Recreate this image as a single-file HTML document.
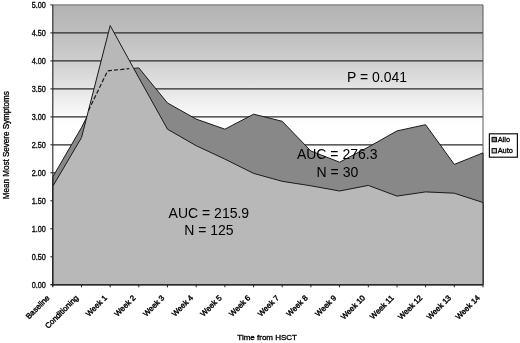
<!DOCTYPE html>
<html><head><meta charset="utf-8"><title>chart</title>
<style>
html,body{margin:0;padding:0;background:#fff;}
body{width:520px;height:343px;overflow:hidden;}
svg{display:block;}
text{font-family:"Liberation Sans",sans-serif;fill:#000;}
text.s{stroke:#000;stroke-width:0.32px;}
text.s2{stroke:#000;stroke-width:0.4px;}
</style></head><body>
<svg width="520" height="343" viewBox="0 0 520 343">
<defs><linearGradient id="bg" x1="0" y1="0" x2="0" y2="1">
<stop offset="0" stop-color="#b3b3b3"/><stop offset="0.1" stop-color="#bebebe"/><stop offset="0.2" stop-color="#cecece"/><stop offset="0.3" stop-color="#e5e5e5"/><stop offset="0.4" stop-color="#fbfbfb"/><stop offset="0.44" stop-color="#ffffff"/><stop offset="1" stop-color="#ffffff"/></linearGradient></defs>
<rect x="0" y="0" width="520" height="343" fill="#fff"/>

<rect x="52.8" y="4.9" width="430.2" height="279.9" fill="url(#bg)"/>
<line x1="52.8" y1="256.8" x2="483.0" y2="256.8" stroke="#2a2a2a" stroke-width="1.15"/>
<line x1="52.8" y1="228.8" x2="483.0" y2="228.8" stroke="#2a2a2a" stroke-width="1.15"/>
<line x1="52.8" y1="200.8" x2="483.0" y2="200.8" stroke="#2a2a2a" stroke-width="1.15"/>
<line x1="52.8" y1="172.8" x2="483.0" y2="172.8" stroke="#2a2a2a" stroke-width="1.15"/>
<line x1="52.8" y1="144.8" x2="483.0" y2="144.8" stroke="#2a2a2a" stroke-width="1.15"/>
<line x1="52.8" y1="116.9" x2="483.0" y2="116.9" stroke="#2a2a2a" stroke-width="1.15"/>
<line x1="52.8" y1="88.9" x2="483.0" y2="88.9" stroke="#2a2a2a" stroke-width="1.15"/>
<line x1="52.8" y1="60.9" x2="483.0" y2="60.9" stroke="#2a2a2a" stroke-width="1.15"/>
<line x1="52.8" y1="32.9" x2="483.0" y2="32.9" stroke="#2a2a2a" stroke-width="1.15"/>
<line x1="52.8" y1="4.9" x2="483.0" y2="4.9" stroke="#6a6a6a" stroke-width="1.00"/>
<line x1="483.0" y1="4.9" x2="483.0" y2="284.8" stroke="#5a5a5a" stroke-width="1"/>
<polygon points="52.8,284.8 52.8,176.9 81.5,127.5 110.2,70.7 138.8,67.9 167.5,103.0 196.2,119.1 224.9,129.2 253.6,114.2 282.2,121.3 310.9,151.0 339.6,162.2 368.3,147.1 397.0,130.9 425.6,124.7 454.3,164.4 483.0,152.9 483.0,284.8" fill="#888888" stroke="#1a1a1a" stroke-width="1"/>
<polygon points="52.8,284.8 52.8,186.3 81.5,137.6 110.2,25.6 138.8,77.7 167.5,129.2 196.2,145.7 224.9,159.1 253.6,173.4 282.2,181.3 310.9,185.8 339.6,191.0 368.3,185.4 397.0,196.1 425.6,191.9 454.3,193.2 483.0,202.5 483.0,284.8" fill="#b8b8b8" stroke="#1a1a1a" stroke-width="1"/>
<polyline points="88.5,110.5 93.5,100.1 107.6,70.9 129.2,68.6" fill="none" stroke="#1a1a1a" stroke-width="1.2" stroke-dasharray="4.2,2.1"/>
<line x1="52.8" y1="4.9" x2="52.8" y2="286.8" stroke="#222" stroke-width="1.1"/>
<line x1="50.8" y1="284.8" x2="483.0" y2="284.8" stroke="#222" stroke-width="1.1"/>
<line x1="52.8" y1="284.8" x2="52.8" y2="287.3" stroke="#222" stroke-width="1"/>
<line x1="81.5" y1="284.8" x2="81.5" y2="287.3" stroke="#222" stroke-width="1"/>
<line x1="110.2" y1="284.8" x2="110.2" y2="287.3" stroke="#222" stroke-width="1"/>
<line x1="138.8" y1="284.8" x2="138.8" y2="287.3" stroke="#222" stroke-width="1"/>
<line x1="167.5" y1="284.8" x2="167.5" y2="287.3" stroke="#222" stroke-width="1"/>
<line x1="196.2" y1="284.8" x2="196.2" y2="287.3" stroke="#222" stroke-width="1"/>
<line x1="224.9" y1="284.8" x2="224.9" y2="287.3" stroke="#222" stroke-width="1"/>
<line x1="253.6" y1="284.8" x2="253.6" y2="287.3" stroke="#222" stroke-width="1"/>
<line x1="282.2" y1="284.8" x2="282.2" y2="287.3" stroke="#222" stroke-width="1"/>
<line x1="310.9" y1="284.8" x2="310.9" y2="287.3" stroke="#222" stroke-width="1"/>
<line x1="339.6" y1="284.8" x2="339.6" y2="287.3" stroke="#222" stroke-width="1"/>
<line x1="368.3" y1="284.8" x2="368.3" y2="287.3" stroke="#222" stroke-width="1"/>
<line x1="397.0" y1="284.8" x2="397.0" y2="287.3" stroke="#222" stroke-width="1"/>
<line x1="425.6" y1="284.8" x2="425.6" y2="287.3" stroke="#222" stroke-width="1"/>
<line x1="454.3" y1="284.8" x2="454.3" y2="287.3" stroke="#222" stroke-width="1"/>
<line x1="483.0" y1="284.8" x2="483.0" y2="287.3" stroke="#222" stroke-width="1"/>
<line x1="50.3" y1="284.8" x2="52.8" y2="284.8" stroke="#222" stroke-width="1"/>
<text class="s" x="45.9" y="287.5" font-size="8.3" text-anchor="end" textLength="14.2" lengthAdjust="spacingAndGlyphs">0.00</text>
<line x1="50.3" y1="256.8" x2="52.8" y2="256.8" stroke="#222" stroke-width="1"/>
<text class="s" x="45.9" y="259.5" font-size="8.3" text-anchor="end" textLength="14.2" lengthAdjust="spacingAndGlyphs">0.50</text>
<line x1="50.3" y1="228.8" x2="52.8" y2="228.8" stroke="#222" stroke-width="1"/>
<text class="s" x="45.9" y="231.5" font-size="8.3" text-anchor="end" textLength="14.2" lengthAdjust="spacingAndGlyphs">1.00</text>
<line x1="50.3" y1="200.8" x2="52.8" y2="200.8" stroke="#222" stroke-width="1"/>
<text class="s" x="45.9" y="203.5" font-size="8.3" text-anchor="end" textLength="14.2" lengthAdjust="spacingAndGlyphs">1.50</text>
<line x1="50.3" y1="172.8" x2="52.8" y2="172.8" stroke="#222" stroke-width="1"/>
<text class="s" x="45.9" y="175.5" font-size="8.3" text-anchor="end" textLength="14.2" lengthAdjust="spacingAndGlyphs">2.00</text>
<line x1="50.3" y1="144.8" x2="52.8" y2="144.8" stroke="#222" stroke-width="1"/>
<text class="s" x="45.9" y="147.5" font-size="8.3" text-anchor="end" textLength="14.2" lengthAdjust="spacingAndGlyphs">2.50</text>
<line x1="50.3" y1="116.9" x2="52.8" y2="116.9" stroke="#222" stroke-width="1"/>
<text class="s" x="45.9" y="119.6" font-size="8.3" text-anchor="end" textLength="14.2" lengthAdjust="spacingAndGlyphs">3.00</text>
<line x1="50.3" y1="88.9" x2="52.8" y2="88.9" stroke="#222" stroke-width="1"/>
<text class="s" x="45.9" y="91.6" font-size="8.3" text-anchor="end" textLength="14.2" lengthAdjust="spacingAndGlyphs">3.50</text>
<line x1="50.3" y1="60.9" x2="52.8" y2="60.9" stroke="#222" stroke-width="1"/>
<text class="s" x="45.9" y="63.6" font-size="8.3" text-anchor="end" textLength="14.2" lengthAdjust="spacingAndGlyphs">4.00</text>
<line x1="50.3" y1="32.9" x2="52.8" y2="32.9" stroke="#222" stroke-width="1"/>
<text class="s" x="45.9" y="35.6" font-size="8.3" text-anchor="end" textLength="14.2" lengthAdjust="spacingAndGlyphs">4.50</text>
<line x1="50.3" y1="4.9" x2="52.8" y2="4.9" stroke="#222" stroke-width="1"/>
<text class="s" x="45.9" y="7.6" font-size="8.3" text-anchor="end" textLength="14.2" lengthAdjust="spacingAndGlyphs">5.00</text>
<text class="s2" transform="translate(50.1,298.4) rotate(-45)" font-size="7.8" text-anchor="end">Baseline</text>
<text class="s2" transform="translate(78.8,298.4) rotate(-45)" font-size="7.8" text-anchor="end">Conditioning</text>
<text class="s2" transform="translate(107.5,298.4) rotate(-45)" font-size="7.8" text-anchor="end">Week 1</text>
<text class="s2" transform="translate(136.1,298.4) rotate(-45)" font-size="7.8" text-anchor="end">Week 2</text>
<text class="s2" transform="translate(164.8,298.4) rotate(-45)" font-size="7.8" text-anchor="end">Week 3</text>
<text class="s2" transform="translate(193.5,298.4) rotate(-45)" font-size="7.8" text-anchor="end">Week 4</text>
<text class="s2" transform="translate(222.2,298.4) rotate(-45)" font-size="7.8" text-anchor="end">Week 5</text>
<text class="s2" transform="translate(250.9,298.4) rotate(-45)" font-size="7.8" text-anchor="end">Week 6</text>
<text class="s2" transform="translate(279.5,298.4) rotate(-45)" font-size="7.8" text-anchor="end">Week 7</text>
<text class="s2" transform="translate(308.2,298.4) rotate(-45)" font-size="7.8" text-anchor="end">Week 8</text>
<text class="s2" transform="translate(336.9,298.4) rotate(-45)" font-size="7.8" text-anchor="end">Week 9</text>
<text class="s2" transform="translate(365.6,298.4) rotate(-45)" font-size="7.8" text-anchor="end">Week 10</text>
<text class="s2" transform="translate(394.3,298.4) rotate(-45)" font-size="7.8" text-anchor="end">Week 11</text>
<text class="s2" transform="translate(422.9,298.4) rotate(-45)" font-size="7.8" text-anchor="end">Week 12</text>
<text class="s2" transform="translate(451.6,298.4) rotate(-45)" font-size="7.8" text-anchor="end">Week 13</text>
<text class="s2" transform="translate(480.3,298.4) rotate(-45)" font-size="7.8" text-anchor="end">Week 14</text>
<text class="s" x="237.3" y="339.6" font-size="7.8" textLength="59.7" lengthAdjust="spacingAndGlyphs">Time from HSCT</text>
<text class="s" transform="translate(8.9,199.2) rotate(-90)" font-size="8.2" textLength="108" lengthAdjust="spacingAndGlyphs">Mean Most Severe Symptoms</text>
<text x="377" y="82.1" font-size="14" text-anchor="middle" fill="#333">P = 0.041</text>
<text x="337.2" y="159.3" font-size="14" text-anchor="middle" fill="#333">AUC = 276.3</text>
<text x="337.4" y="176.6" font-size="14" text-anchor="middle" fill="#333">N = 30</text>
<text x="208.9" y="217.7" font-size="14" text-anchor="middle" fill="#333">AUC = 215.9</text>
<text x="208.9" y="234.8" font-size="14" text-anchor="middle" fill="#333">N = 125</text>
<rect x="489.4" y="133.8" width="28" height="23.4" fill="#fff" stroke="#111" stroke-width="1.2"/>
<rect x="492.1" y="137.4" width="4.3" height="4.3" fill="#888888" stroke="#111" stroke-width="1.1"/>
<rect x="492.1" y="148.6" width="4.3" height="4.3" fill="#d0d0d0" stroke="#111" stroke-width="1.1"/>
<text class="s" x="497.7" y="141.9" font-size="7.4">Allo</text>
<text class="s" x="497.7" y="153.2" font-size="7.4">Auto</text>
</svg></body></html>
